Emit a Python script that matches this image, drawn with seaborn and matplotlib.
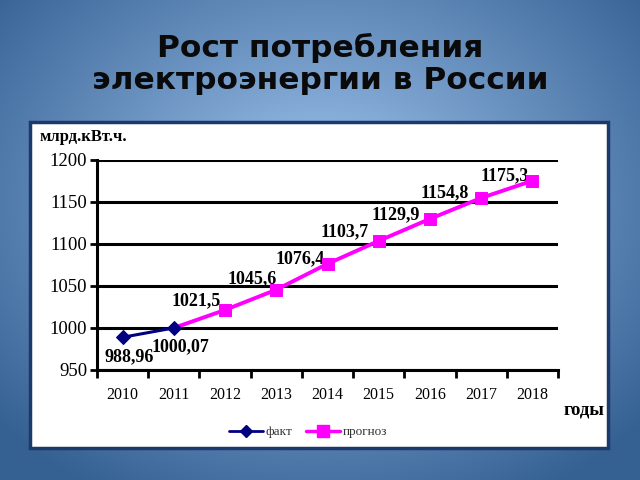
import matplotlib
matplotlib.use('Agg')
import matplotlib.pyplot as plt
import seaborn as sns
import numpy as np
from matplotlib.patches import Rectangle
from matplotlib.lines import Line2D

# data
years_fact = [2010, 2011]
fact = [988.96, 1000.07]
years_forecast = [2011, 2012, 2013, 2014, 2015, 2016, 2017, 2018]
forecast = [1000.07, 1021.5, 1045.6, 1076.4, 1103.7, 1129.9, 1154.8, 1175.3]
fact_labels = ['988,96', '1000,07']
forecast_labels = ['1021,5', '1045,6', '1076,4', '1103,7', '1129,9', '1154,8', '1175,3']
year_ticks = list(range(2010, 2019))

sns.set_theme(style='white')
plt.rcParams['font.family'] = ['serif']
plt.rcParams['font.serif'] = ['Liberation Serif', 'DejaVu Serif']
plt.rcParams['text.color'] = 'black'

navy = '#000080'
magenta = '#ff00ff'

fig = plt.figure(figsize=(6.4, 4.8), dpi=100)

# slide background: radial blue gradient
bg = fig.add_axes([0, 0, 1, 1], zorder=-10)
yy, xx = np.mgrid[0:480, 0:640]
r = np.sqrt(((xx - 320) / 430.0) ** 2 + ((yy - 200) / 340.0) ** 2)
r = np.clip(r, 0, 1)[..., None]
c_in = np.array([0xa2, 0xc6, 0xf0]) / 255.0
c_out = np.array([0x34, 0x60, 0x92]) / 255.0
img = c_in * (1 - r) + c_out * r
bg.imshow(img, aspect='auto', interpolation='bilinear')
bg.axis('off')

# white chart panel
fig.add_artist(Rectangle((30 / 640, 1 - 448 / 480), 578 / 640, 326 / 480,
                         transform=fig.transFigure, facecolor='white',
                         edgecolor='#1b3a6b', linewidth=2.5, zorder=-5))

fig.text(0.5, 0.866, 'Рост потребления\nэлектроэнергии в России',
         ha='center', va='center', fontsize=22.5, fontweight='bold',
         family='DejaVu Sans', color='#0a0a0a', linespacing=1.12)

ax = fig.add_axes([97 / 640, 1 - 370 / 480, 461 / 640, 210 / 480])

sns.lineplot(x=years_fact, y=fact, ax=ax, color=navy, linewidth=2.2,
             marker='D', markersize=7, markeredgecolor=navy, zorder=4)
sns.lineplot(x=years_forecast, y=forecast, ax=ax, color=magenta, linewidth=2.8,
             zorder=3)
sns.scatterplot(x=years_forecast[1:], y=forecast[1:], ax=ax, color=magenta,
                marker='s', s=75, edgecolor=magenta, zorder=5)

# value labels
for x, y, t in zip(years_fact, fact, fact_labels):
    ax.annotate(t, (x, y), xytext=(7, -19), textcoords='offset pixels',
                ha='center', va='center', fontsize=13, fontweight='bold',
                color='black')
offsets = [(-29, 9), (-24, 11), (-27, 5), (-34, 9), (-34, 4), (-36, 5), (-28, 5)]
for x, y, t, off in zip(years_forecast[1:], forecast[1:], forecast_labels, offsets):
    ax.annotate(t, (x, y), xytext=off, textcoords='offset pixels',
                ha='center', va='center', fontsize=13, fontweight='bold',
                color='black')

ax.set_xlim(2009.5, 2018.5)
ax.set_ylim(950, 1200)
ax.set_yticks([950, 1000, 1050, 1100, 1150, 1200])
ax.set_xticks(year_ticks)
ax.set_xticks(np.arange(2009.5, 2019, 1.0), minor=True)
ax.tick_params(axis='x', which='major', length=0, labelsize=11.5, pad=12, colors='black')
ax.tick_params(axis='x', which='minor', length=6, width=2, direction='out',
               color='black', bottom=True)
ax.tick_params(axis='y', length=5, width=2, direction='out', left=True,
               labelsize=13.5, colors='black', pad=2)
ax.yaxis.grid(True, color='black', linewidth=2.2)
ax.xaxis.grid(False)
ax.set_axisbelow(True)
for s in ['top', 'right']:
    ax.spines[s].set_visible(False)
for s in ['left', 'bottom']:
    ax.spines[s].set_color('black')
    ax.spines[s].set_linewidth(2.2)
ax.set_xlabel('')
ax.set_ylabel('')
ax.set_facecolor('white')

fig.text(40 / 640, 1 - 137 / 480, 'млрд.кВт.ч.', ha='left', va='center',
         fontsize=12, fontweight='bold', color='black')
fig.text(584 / 640, 1 - 410 / 480, 'годы', ha='center', va='center',
         fontsize=13.5, fontweight='bold', color='black')

handles = [Line2D([], [], color=navy, linewidth=2, marker='D', markersize=6),
           Line2D([], [], color=magenta, linewidth=2.5, marker='s', markersize=8)]
fig.legend(handles, ['факт', 'прогноз'], loc='center', ncol=2,
           bbox_to_anchor=(308 / 640, 1 - 432 / 480), frameon=False,
           fontsize=9.5, handlelength=2.6, handletextpad=0.2, columnspacing=1.0,
           labelcolor='#333333')

fig.savefig('out.png', dpi=100)
